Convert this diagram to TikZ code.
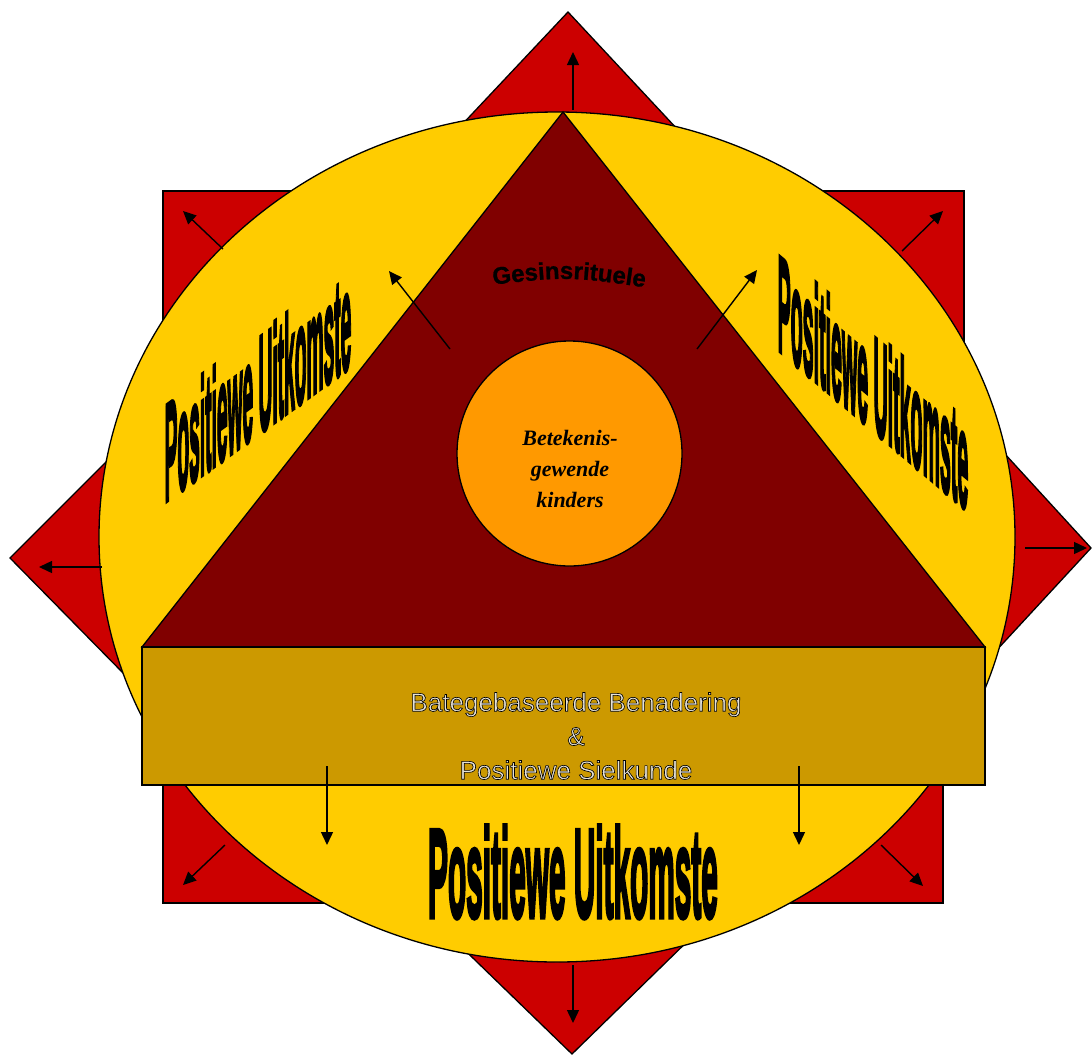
\documentclass[tikz,border=0pt]{standalone}
\usepackage{fontspec}
\setmainfont{Liberation Sans}
\newfontfamily\wordartfont{Liberation Sans}[BoldFeatures={FakeBold=4}]
\newfontfamily\gesfamily{Liberation Sans}[BoldFeatures={FakeBold=1}]
\newfontfamily\outlinefont{Liberation Sans}[FakeBold=2.4]
\newfontfamily\kidsfont{Liberation Serif}
\usetikzlibrary{arrows.meta,decorations.text}
\definecolor{starred}{HTML}{CC0000}
\definecolor{sunyellow}{HTML}{FFCC00}
\definecolor{deepred}{HTML}{800000}
\definecolor{coreorange}{HTML}{FF9900}
\definecolor{basegold}{HTML}{CC9900}
\definecolor{letterfill}{HTML}{E6E2D8}
\newcommand{\gesfont}{\gesfamily\bfseries\fontsize{24}{24}\selectfont}
\newcommand{\outlined}[1]{{\color{letterfill}\special{pdf:literal direct 0 0 0 RG}#1}}
\tikzset{
  outline/.style={draw=black, line width=1.3pt},
  arr/.style={draw=black, line width=1.4pt, -{Triangle[length=13pt,width=12pt]}},
  wordart/.style={font=\wordartfont\bfseries\fontsize{40}{40}\selectfont, inner sep=0pt},
  basetext/.style={font=\outlinefont\fontsize{26}{34}\selectfont, align=center, inner sep=0pt},
}
\begin{document}
\begin{tikzpicture}[x=1pt,y=-1pt]
\useasboundingbox (0,0) rectangle (1092,1055);
% star background
\path[outline, fill=starred] (163,191) -- (964,191) -- (964,560) -- (943,560) -- (943,903) -- (163,903) -- cycle;
\path[outline, fill=starred] (568,12) -- (734,190) -- (950,394) -- (1091,548) -- (945,706) -- (742,888) -- (572,1054) -- (412,899) -- (186,737) -- (10,558) -- (167,401) -- (408,182) -- cycle;
% ellipse
\path[outline, fill=sunyellow] (557,537) ellipse [x radius=458pt, y radius=425pt];
% triangle
\path[outline, fill=deepred] (563,112) -- (985,647) -- (142,647) -- cycle;
% core circle
\node[circle, outline, fill=coreorange, minimum size=225pt, inner sep=0pt] (core) at (569.5,453.5) {};
% base rectangle
\node[rectangle, outline, fill=basegold, minimum width=843pt, minimum height=138pt, inner sep=0pt] (base) at (563.5,716) {};
% arrows
\coordinate (aTs) at (573,110);  \coordinate (aTe) at (573,52);
\coordinate (aTLs) at (223,249); \coordinate (aTLe) at (183,211);
\coordinate (aTRs) at (902,251); \coordinate (aTRe) at (943,211);
\coordinate (aLs) at (102,567);  \coordinate (aLe) at (39,567);
\coordinate (aRs) at (1025,548); \coordinate (aRe) at (1087,548);
\coordinate (aBLs) at (225,845); \coordinate (aBLe) at (183,885);
\coordinate (aBRs) at (881,845); \coordinate (aBRe) at (923,886);
\coordinate (aBs) at (573,965);  \coordinate (aBe) at (573,1023);
\coordinate (aR1s) at (327,766); \coordinate (aR1e) at (327,845);
\coordinate (aR2s) at (799,766); \coordinate (aR2e) at (799,845);
\coordinate (aT1s) at (450,349); \coordinate (aT1e) at (389,271);
\coordinate (aT2s) at (697,349); \coordinate (aT2e) at (757,270);
\foreach \a in {T,TL,TR,L,R,BL,BR,B,R1,R2,T1,T2}{\draw[arr] (a\a s) -- (a\a e);}
% texts
\node[basetext] (basetxt) at (576,736) {\outlined{Bategebaseerde Benadering}\\ \outlined{\&}\\ \outlined{Positiewe Sielkunde}};
\node[font=\kidsfont\bfseries\itshape\fontsize{22}{31}\selectfont, align=center, inner sep=0pt] (kids) at (570,469) {Betekenis-\\gewende\\kinders};
\coordinate (gesL) at (482,286);
\coordinate (gesR) at (656,289);
\path[decorate, decoration={text along path, text={|\gesfont|Gesinsrituele}, text align=center}] (gesL) .. controls (568,276) .. (gesR);
\node[wordart, xscale=0.745, yscale=3.15, anchor=base] (bottomtext) at (573,917) {Positiewe Uitkomste};
\begin{scope}[shift={(258,434)}, yslant=0.73]
  \node[wordart, transform shape, xscale=0.48, yscale=3.45, anchor=base] (lefttext) at (0,0) {Positiewe Uitkomste};
\end{scope}
\begin{scope}[shift={(873,430)}, yslant=-0.85]
  \node[wordart, transform shape, xscale=0.49, yscale=3.4, anchor=base] (righttext) at (0,0) {Positiewe Uitkomste};
\end{scope}
\end{tikzpicture}
\end{document}
